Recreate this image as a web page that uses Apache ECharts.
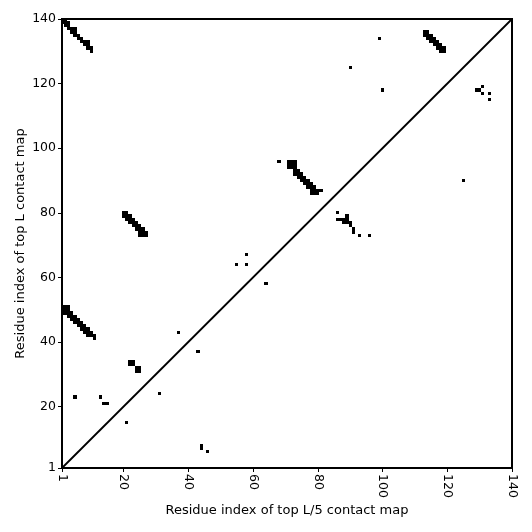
<!DOCTYPE html>
<html>
<head>
<meta charset="utf-8">
<script src="https://cdn.jsdelivr.net/npm/echarts@6/dist/echarts.min.js"></script>
<style>html,body{margin:0;padding:0;background:#fff;}#c{width:532px;height:532px;}</style>
</head>
<body>
<div id="c"></div>
<script>
// Tick labels (both axes)
const tickValues = [1, 20, 40, 60, 80, 100, 120, 140];

// Upper-left triangle: top L contacts [residue i (x), residue j (y)]
const upperContacts = [
  [1,140],[2,140],[1,139],[2,139],[3,139],[2,138],[3,138],[3,137],[4,137],[5,137],[4,136],[5,136],[5,135],[6,135],[6,134],
  [7,134],[7,133],[8,133],[9,133],[8,132],[9,132],[9,131],[10,131],[10,130],
  [113,136],[114,136],[113,135],[114,135],[115,135],[114,134],[115,134],[116,134],[115,133],[116,133],[117,133],
  [116,132],[117,132],[118,132],[117,131],[118,131],[119,131],[118,130],[119,130],
  [1,51],[2,51],[3,51],[1,50],[2,50],[3,50],[1,49],[2,49],[3,49],[4,49],[3,48],[4,48],[5,48],[4,47],[5,47],[6,47],
  [5,46],[6,46],[7,46],[6,45],[7,45],[8,45],[7,44],[8,44],[9,44],[8,43],[9,43],[10,43],[9,42],[10,42],[11,42],[11,41],
  [20,80],[21,80],[20,79],[21,79],[22,79],[21,78],[22,78],[23,78],[22,77],[23,77],[24,77],[23,76],[24,76],[25,76],
  [24,75],[25,75],[26,75],[25,74],[26,74],[27,74],[25,73],[26,73],[27,73],
  [22,34],[23,34],[22,33],[23,33],[24,32],[25,32],[24,31],[25,31],
  [13,23],[14,21],[15,21],[5,23],[37,43],[55,64],[58,64],[58,67],[68,96],[90,125],[99,134],[100,118],
  [71,96],[72,96],[73,96],[71,95],[72,95],[73,95],[71,94],[72,94],[73,94],[73,93],[74,93],[74,92],[75,92],
  [73,92],[74,91],[75,91],[76,91],[75,90],[76,90],[77,90],[76,89],[77,89],[78,89],[77,88],[78,88],[79,88],
  [78,87],[79,87],[80,87],[81,87],[78,86],[79,86],[80,86]
];

// Lower-right triangle: top L/5 contacts [residue i (x), residue j (y)]
const lowerContacts = [
  [86,80],[86,78],[87,78],[88,78],[88,77],[89,77],[89,79],[89,78],[90,77],[90,76],[91,75],[91,74],
  [93,73],[96,73],
  [129,118],[130,118],[131,119],[131,117],[133,117],[133,115],
  [125,90],[64,58],[43,37],[44,8],[44,7],[46,6],[31,24],[21,15]
];

// Diagonal reference line endpoints
const diagonal = [[1,1],[140,140]];

const chart = echarts.init(document.getElementById('c'), null, {renderer:'canvas'});

function renderCell(params, api) {
  const x = api.value(0), y = api.value(1);
  const p1 = api.coord([x - 0.5, y + 0.5]);
  const p2 = api.coord([x + 0.5, y - 0.5]);
  const x1 = Math.round(p1[0]), y1 = Math.round(p1[1]);
  const x2 = Math.round(p2[0]), y2 = Math.round(p2[1]);
  const rect = echarts.graphic.clipRectByRect(
    {x: x1, y: y1, width: x2 - x1, height: y2 - y1},
    {x: params.coordSys.x, y: params.coordSys.y, width: params.coordSys.width, height: params.coordSys.height}
  );
  if (!rect) return;
  return {type: 'rect', shape: rect, style: {fill: '#000'}};
}

const font = 'DejaVu Sans';
const axisCommon = {
  type: 'value', min: 1, max: 140,
  splitLine: {show: false},
  axisLine: {show: true, onZero: false, lineStyle: {color: '#000', width: 2}},
  axisTick: {show: true, customValues: tickValues, length: 4, lineStyle: {color: '#000', width: 1}},
  axisLabel: {customValues: tickValues, color: '#000', fontFamily: font, fontSize: 12.5},
  nameLocation: 'middle',
  nameMoveOverlap: false,
  nameTextStyle: {color: '#000', fontFamily: font, fontSize: 13}
};

chart.setOption({
  animation: false,
  backgroundColor: '#fff',
  grid: {left: 62, right: 20, top: 19, bottom: 64, show: true, borderColor: '#000', borderWidth: 2, backgroundColor: 'transparent'},
  xAxis: Object.assign({}, axisCommon, {
    name: 'Residue index of top L/5 contact map', nameGap: 36,
    axisLabel: Object.assign({}, axisCommon.axisLabel, {rotate: -90, margin: 6})
  }),
  yAxis: Object.assign({}, axisCommon, {
    name: 'Residue index of top L contact map', nameGap: 35,
    axisLabel: Object.assign({}, axisCommon.axisLabel, {margin: 6})
  }),
  series: [
    {type: 'custom', renderItem: renderCell, data: upperContacts, encode: {x: 0, y: 1}, z: 2},
    {type: 'custom', renderItem: renderCell, data: lowerContacts, encode: {x: 0, y: 1}, z: 2},
    {type: 'line', data: diagonal, symbol: 'none', lineStyle: {color: '#000', width: 1.8}, z: 3}
  ]
});
</script>
</body>
</html>
